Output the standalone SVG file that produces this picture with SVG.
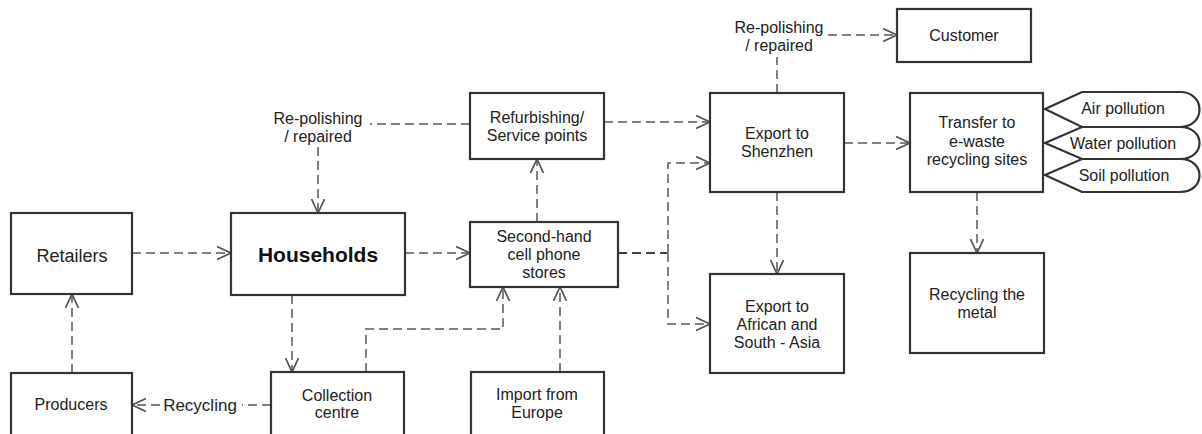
<svg xmlns="http://www.w3.org/2000/svg" width="1202" height="434" viewBox="0 0 1202 434">
<style>
.box{fill:#fff;stroke:#333;stroke-width:2.2}
.t{font-family:"Liberation Sans",Arial,sans-serif;font-size:16px;fill:#222;text-anchor:middle}
.big{font-size:18px}
.bold{font-size:21px;font-weight:bold;fill:#111}
.c{fill:none;stroke:#808080;stroke-width:2;stroke-dasharray:9,5}
.dark{stroke:#444}
</style>
<defs>
<marker id="ah" markerUnits="userSpaceOnUse" markerWidth="18" markerHeight="16" refX="14" refY="7" orient="auto" viewBox="0 0 18 16">
<path d="M0,0.5 L14,7 L0,13.5" fill="none" stroke="#555" stroke-width="1.7"/>
</marker>
</defs>
<rect width="1202" height="434" fill="#fff"/>
<g id="connectors">
<path class="c" d="M132,253 H231" marker-end="url(#ah)"/>
<path class="c" d="M72,373 V294" marker-end="url(#ah)"/>
<path class="c" d="M292,295 V372" marker-end="url(#ah)"/>
<path class="c" d="M271,405 H242"/>
<path class="c" d="M160,405 H132" marker-end="url(#ah)"/>
<path class="c" d="M366,372 V329 H503 V287" marker-end="url(#ah)"/>
<path class="c" d="M560,372 V287" marker-end="url(#ah)"/>
<path class="c" d="M405,253 H470" marker-end="url(#ah)"/>
<path class="c" d="M537,222 V159" marker-end="url(#ah)"/>
<path class="c dark" d="M618,253 H668"/>
<path class="c" d="M668,253 V163 H710" marker-end="url(#ah)"/>
<path class="c" d="M668,253 V324 H710" marker-end="url(#ah)"/>
<path class="c" d="M604,122 H710" marker-end="url(#ah)"/>
<path class="c" d="M470,124 H370"/>
<path class="c" d="M318,147 V213" marker-end="url(#ah)"/>
<path class="c" d="M777,93 V57"/>
<path class="c" d="M828,35 H897" marker-end="url(#ah)"/>
<path class="c" d="M844,143 H910" marker-end="url(#ah)"/>
<path class="c" d="M777,192 V274" marker-end="url(#ah)"/>
<path class="c" d="M977,192 V253" marker-end="url(#ah)"/>
<text class="t" x="200" y="411" style="font-size:17px">Recycling</text>
<text class="t" x="318" y="124">Re-polishing</text>
<text class="t" x="318" y="142">/ repaired</text>
<text class="t" x="779" y="33">Re-polishing</text>
<text class="t" x="779" y="51">/ repaired</text>
</g>
<g id="retailers"><rect class="box" x="11" y="213" width="121" height="81"/><text class="t big" x="72" y="262">Retailers</text></g>
<g id="households"><rect class="box" x="231" y="213" width="174" height="82"/><text class="t bold" x="318" y="262">Households</text></g>
<g id="producers"><rect class="box" x="11" y="373" width="121" height="70"/><text class="t" x="71" y="410">Producers</text></g>
<g id="collection"><rect class="box" x="271" y="372" width="133" height="70"/><text class="t" x="337" y="401">Collection</text><text class="t" x="337" y="418">centre</text></g>
<g id="secondhand"><rect class="box" x="470" y="222" width="148" height="65"/><text class="t" x="544" y="242">Second-hand</text><text class="t" x="544" y="260">cell phone</text><text class="t" x="544" y="278">stores</text></g>
<g id="import"><rect class="box" x="471" y="372" width="133" height="70"/><text class="t" x="537" y="400">Import from</text><text class="t" x="537" y="418">Europe</text></g>
<g id="refurbishing"><rect class="box" x="470" y="93" width="134" height="66"/><text class="t" x="537" y="123">Refurbishing/</text><text class="t" x="537" y="141">Service points</text></g>
<g id="shenzhen"><rect class="box" x="710" y="93" width="134" height="99"/><text class="t" x="777" y="139">Export to</text><text class="t" x="777" y="157">Shenzhen</text></g>
<g id="african"><rect class="box" x="710" y="274" width="134" height="99"/><text class="t" x="777" y="312">Export to</text><text class="t" x="777" y="330">African and</text><text class="t" x="777" y="348">South - Asia</text></g>
<g id="customer"><rect class="box" x="897" y="9" width="134" height="53"/><text class="t" x="964" y="41">Customer</text></g>
<g id="transfer"><rect class="box" x="910" y="93" width="133" height="99"/><text class="t" x="977" y="128">Transfer to</text><text class="t" x="977" y="147">e-waste</text><text class="t" x="977" y="165">recycling sites</text></g>
<g id="metal"><rect class="box" x="910" y="253" width="134" height="100"/><text class="t" x="977" y="300">Recycling the</text><text class="t" x="977" y="318">metal</text></g>
<g id="air"><path class="box" d="M1045,109 L1082,92 H1180 C1206,92 1206,127 1180,127 H1082 Z"/><text class="t" x="1123" y="114">Air pollution</text></g>
<g id="water"><path class="box" d="M1045,143 L1082,127 H1180 C1206,127 1206,159 1180,159 H1082 Z"/><text class="t" x="1123" y="149">Water pollution</text></g>
<g id="soil"><path class="box" d="M1045,175 L1082,159 H1180 C1206,159 1206,192 1180,192 H1082 Z"/><text class="t" x="1124" y="181">Soil pollution</text></g>
</svg>
